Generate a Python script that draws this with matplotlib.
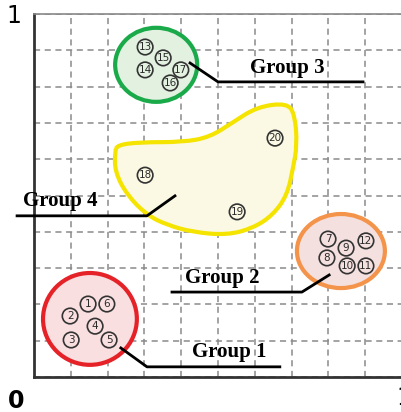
import numpy as np
import matplotlib
matplotlib.use("Agg")
import matplotlib.pyplot as plt
from matplotlib.patches import Ellipse, PathPatch
from matplotlib.path import Path

# numbered members of each group (data coords, 0..1 axes)
g1_ids = [1, 6, 2, 4, 3, 5]
g1_x = [0.147, 0.198, 0.098, 0.166, 0.101, 0.204]
g1_y = [0.201, 0.201, 0.168, 0.140, 0.102, 0.102]

g2_ids = [7, 9, 12, 8, 10, 11]
g2_x = [0.799, 0.848, 0.902, 0.796, 0.851, 0.902]
g2_y = [0.380, 0.355, 0.375, 0.328, 0.306, 0.306]

g3_ids = [13, 15, 14, 17, 16]
g3_x = [0.302, 0.351, 0.302, 0.399, 0.370]
g3_y = [0.909, 0.879, 0.846, 0.846, 0.810]

g4_ids = [18, 19, 20]
g4_x = [0.302, 0.552, 0.655]
g4_y = [0.556, 0.455, 0.658]

# outline of group 4 (hand drawn blob), used as bezier control points
blob_x = [0.226, 0.288, 0.405, 0.478, 0.541, 0.606, 0.688, 0.709, 0.715, 0.704,
          0.688, 0.649, 0.595, 0.524, 0.432, 0.361, 0.307, 0.253, 0.220, 0.220]
blob_y = [0.639, 0.647, 0.647, 0.661, 0.702, 0.744, 0.755, 0.722, 0.639, 0.576,
          0.501, 0.446, 0.410, 0.391, 0.399, 0.419, 0.446, 0.501, 0.565, 0.620]

# group label leader lines
leaders = {
    "Group 1": ([0.236, 0.307, 0.668], [0.080, 0.028, 0.028]),
    "Group 2": ([0.802, 0.728, 0.375], [0.281, 0.234, 0.234]),
    "Group 3": ([0.424, 0.500, 0.894], [0.865, 0.813, 0.813]),
    "Group 4": ([0.383, 0.307, -0.046], [0.499, 0.444, 0.444]),
}
label_x = {"Group 1": 0.530, "Group 2": 0.511, "Group 3": 0.688, "Group 4": 0.071}

W, H = 401, 412
fig = plt.figure(figsize=(W / 100, H / 100), dpi=100)
ax = fig.add_axes([34 / W, (H - 377) / H, 368 / W, 363 / H])
ax.set_xlim(0, 1)
ax.set_ylim(0, 1)

ax.set_xticks(np.arange(0, 1.01, 0.1))
ax.set_yticks(np.arange(0, 1.01, 0.1))
ax.tick_params(length=0, labelbottom=False, labelleft=False)
ax.grid(True, linestyle=(0, (4, 3)), color="#8a8a8a", linewidth=1.1)
ax.set_axisbelow(True)

for s in ["left", "bottom"]:
    ax.spines[s].set_linewidth(2)
    ax.spines[s].set_color("#333333")
ax.spines["top"].set_color("#888888")
ax.spines["top"].set_linewidth(1.2)
ax.spines["right"].set_visible(False)

# group shapes
ax.add_patch(Ellipse((0.152, 0.160), 0.255, 0.253, facecolor="#f9dfe0",
                     edgecolor="#e52228", linewidth=3, zorder=2))
ax.add_patch(Ellipse((0.834, 0.347), 0.239, 0.204, facecolor="#f4e0df",
                     edgecolor="#f4934a", linewidth=3, zorder=2))
ax.add_patch(Ellipse((0.332, 0.860), 0.223, 0.204, facecolor="#e3f1e1",
                     edgecolor="#1aaa4a", linewidth=3, zorder=2))

# smooth closed outline: quadratic curves through midpoints of the control points
pts = np.column_stack([blob_x, blob_y])
mids = (pts + np.roll(pts, -1, axis=0)) / 2
verts = [mids[-1]]
codes = [Path.MOVETO]
for i in range(len(pts)):
    verts += [pts[i], mids[i]]
    codes += [Path.CURVE3, Path.CURVE3]
ax.add_patch(PathPatch(Path(verts, codes), facecolor="#fbf8e4",
                       edgecolor="#f5e400", linewidth=3, zorder=2))

for ids, xs, ys in [(g1_ids, g1_x, g1_y), (g2_ids, g2_x, g2_y),
                    (g3_ids, g3_x, g3_y), (g4_ids, g4_x, g4_y)]:
    ax.scatter(xs, ys, s=125, facecolor="none", edgecolor="#333333",
               linewidth=1.2, zorder=3)
    for i, x, y in zip(ids, xs, ys):
        ax.text(x, y, str(i), fontsize=7.5, ha="center", va="center",
                color="#2a2a2a", zorder=4)

for name, (lx, ly) in leaders.items():
    ax.plot(lx, ly, color="black", linewidth=2, clip_on=False, zorder=5)
    ax.text(label_x[name], ly[-1] + 0.012, name, fontsize=15, fontweight="bold",
            family="Liberation Serif", ha="center", va="bottom", clip_on=False)

fig.text(14 / W, 1 - 16 / H, "1", fontsize=17, ha="center", va="center")
fig.text(16 / W, 1 - 401 / H, "0", fontsize=17, fontweight="bold",
         ha="center", va="center")
fig.text(404 / W, 1 - 398 / H, "1", fontsize=17, ha="center", va="center")

fig.savefig("out.png", dpi=100)
